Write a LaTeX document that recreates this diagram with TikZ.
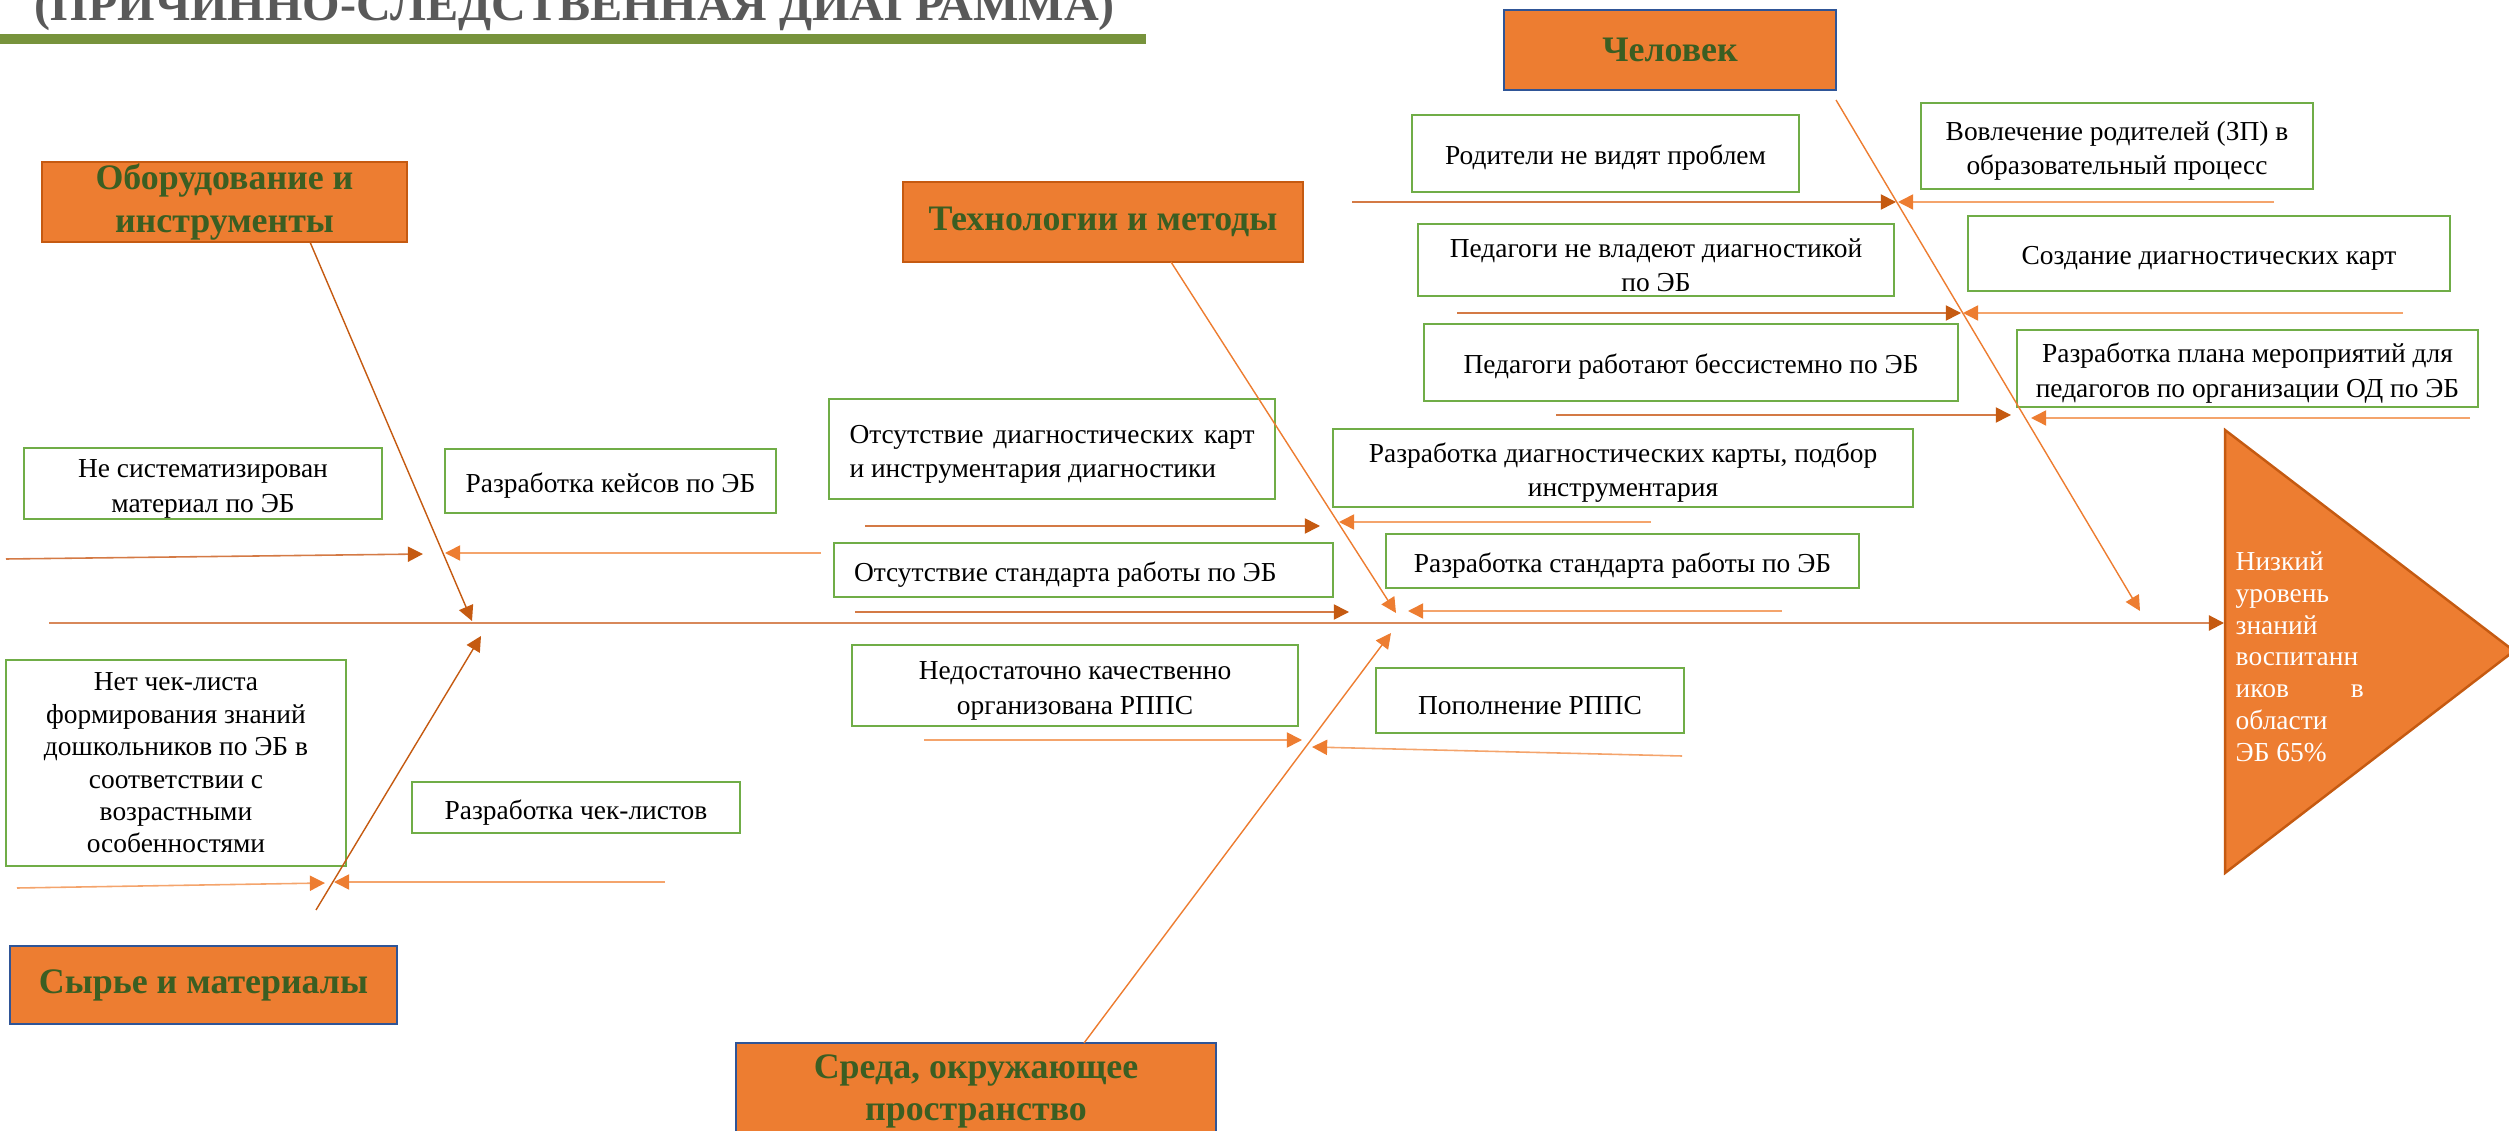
\documentclass[tikz,border=0pt]{standalone}
\usepackage{fontspec}
\setmainfont{Liberation Serif}
\usetikzlibrary{arrows.meta}

\definecolor{fishorange}{HTML}{ED7D31}
\definecolor{darkorange}{HTML}{C55A11}
\definecolor{lightorange}{HTML}{F4A46C}
\definecolor{causeline}{HTML}{D47A45}
\definecolor{spinebrown}{HTML}{D8885A}
\definecolor{leafgreen}{HTML}{70AD47}
\definecolor{catgreen}{HTML}{3B5E22}
\definecolor{catblue}{HTML}{2F5597}
\definecolor{bargreen}{HTML}{77933C}
\definecolor{titlegray}{HTML}{595959}

\newlength\px \setlength\px{0.01cm}
\newcommand\leaffont{\fontsize{7.8}{9.7}\selectfont}
\newcommand\catfont{\fontsize{10.2}{12}\selectfont\bfseries}
\newcommand\lift{\rule{0pt}{8.2pt}}

\begin{document}
\begin{tikzpicture}[x=0.01cm, y=-0.01cm,
  cat/.style={draw=darkorange, fill=fishorange, line width=0.7pt, align=center,
    font=\catfont, text=catgreen, inner sep=0pt},
  catb/.style={cat, draw=catblue},
  leaf/.style={draw=leafgreen, line width=0.65pt, fill=white, align=center,
    font=\leaffont, inner sep=0pt},
  prob/.style={color=causeline, line width=0.45pt,
    -{Triangle[length=4.3pt, width=4.3pt, color=darkorange]}},
  probl/.style={color=lightorange, line width=0.45pt,
    -{Triangle[length=4.3pt, width=4.3pt, color=fishorange]}},
  fix/.style={color=lightorange, line width=0.45pt,
    -{Triangle[length=4.3pt, width=4.3pt, color=fishorange]}},
  bone/.style={color=fishorange, line width=0.4pt,
    -{Triangle[length=4.3pt, width=4.3pt]}},
  boned/.style={bone, color=darkorange}]

\useasboundingbox (0,0) rectangle (2509,1131);

% title
\node[anchor=base west, inner sep=0pt, text=titlegray,
  font=\fontsize{13.7}{16}\selectfont\bfseries] (title) at (34,21)
  {(ПРИЧИННО-СЛЕДСТВЕННАЯ ДИАГРАММА)};
\fill[bargreen] (0,34) rectangle (1146,44);

% categories
\node[cat, minimum width=365\px, minimum height=80\px] (equip) at (224.5,202) {Оборудование и\\инструменты};
\node[cat, minimum width=400\px, minimum height=80\px] (tech) at (1103,222) {Технологии и методы};
\node[catb, minimum width=332\px, minimum height=80\px] (human) at (1670,50) {Человек};
\node[catb, minimum width=387\px, minimum height=78\px] (raw) at (203.5,985) {Сырье и материалы};
\node[catb, minimum width=480\px, minimum height=97\px] (env) at (976,1091.5) {Среда, окружающее\\пространство};

% causes and fixes
\node[leaf, minimum width=358\px, minimum height=71\px] (eq1) at (203,483.5) {\lift Не систематизирован\\материал по ЭБ};
\node[leaf, minimum width=331\px, minimum height=64\px] (eq2) at (610.5,481) {\lift Разработка кейсов по ЭБ};
\node[leaf, font=\fontsize{7.8}{9.2}\selectfont, minimum width=340\px, minimum height=206\px] (rw1) at (176,763)
  {Нет чек-листа\\формирования знаний\\дошкольников по ЭБ в\\соответствии с\\возрастными\\особенностями};
\node[leaf, minimum width=328\px, minimum height=51\px] (rw2) at (576,807.5) {\lift Разработка чек-листов};
\node[leaf, align=left, minimum width=446\px, minimum height=100\px] (tc1) at (1052,449)
  {\lift\makebox[405\px][s]{Отсутствие диагностических карт}\\\makebox[405\px][l]{и инструментария диагностики}};
\node[leaf, minimum width=580\px, minimum height=78\px] (tc2) at (1623,468) {\lift Разработка диагностических карты, подбор\\инструментария};
\node[leaf, minimum width=499\px, minimum height=54\px] (td1) at (1083.5,570) {\lift\makebox[459\px][l]{Отсутствие стандарта работы по ЭБ}};
\node[leaf, minimum width=473\px, minimum height=54\px] (td2) at (1622.5,561) {\lift Разработка стандарта работы по ЭБ};
\node[leaf, minimum width=446\px, minimum height=81\px] (en1) at (1075,685.5) {\lift Недостаточно качественно\\организована РППС};
\node[leaf, minimum width=308\px, minimum height=65\px] (en2) at (1530,700.5) {\lift Пополнение РППС};
\node[leaf, minimum width=387\px, minimum height=77\px] (ha1) at (1605.5,153.5) {\lift Родители не видят проблем};
\node[leaf, minimum width=392\px, minimum height=86\px] (ha2) at (2117,146) {\lift Вовлечение родителей (ЗП) в\\образовательный процесс};
\node[leaf, minimum width=476\px, minimum height=72\px] (hb1) at (1656,260) {\lift Педагоги не владеют диагностикой\\по ЭБ};
\node[leaf, minimum width=482\px, minimum height=75\px] (hb2) at (2209,253.5) {\lift Создание диагностических карт};
\node[leaf, minimum width=534\px, minimum height=77\px] (hc1) at (1691,362.5) {\lift Педагоги работают бессистемно по ЭБ};
\node[leaf, minimum width=461\px, minimum height=77\px] (hc2) at (2247.5,368.5) {\lift Разработка плана мероприятий для\\педагогов по организации ОД по ЭБ};

% effect
\filldraw[fill=fishorange, draw=darkorange, line width=0.7pt] (2225,430) -- (2514,651) -- (2225,873) -- cycle;
\node[anchor=north west, align=left, inner sep=0pt, font=\fontsize{7.8}{9.05}\selectfont, text=white] (effect) at (2235,551)
  {Низкий\\уровень\\знаний\\воспитанн\\\makebox[128\px][s]{иков в}\\области\\ЭБ 65\%};

\foreach \n/\p in {eqA/{6,559}, eqB/{423,554}, eqC/{821,553}, eqD/{445,553},
    rwA/{17,888}, rwB/{325,883}, rwC/{665,882}, rwD/{334,882},
    tcA/{865,526}, tcB/{1320,526}, tcC/{1651,522}, tcD/{1339,522},
    tdA/{855,612}, tdB/{1349,612}, tdC/{1782,611}, tdD/{1408,611},
    enA/{924,740}, enB/{1302,740}, enC/{1682,756}, enD/{1312,747},
    haA/{1352,202}, haB/{1896,202}, haC/{2274,202}, haD/{1898,202},
    hbA/{1457,313}, hbB/{1961,313}, hbC/{2403,313}, hbD/{1963,313},
    hcA/{1556,415}, hcB/{2011,415}, hcC/{2470,418}, hcD/{2031,418},
    eqS/{310,242}, eqT/{472,621}, rwS/{316,910}, rwT/{481,636},
    tcS/{1171,262}, tcT/{1396,613}, enS/{1084,1043}, enT/{1391,633},
    huS/{1836,100}, huT/{2140,611}, spS/{49,623}, spT/{2224,623}}
  \coordinate (\n) at (\p);

% spine and bones
\draw[color=spinebrown, line width=0.6pt, -{Triangle[length=4.3pt, width=4.3pt, color=darkorange]}] (spS) -- (spT);
\path[boned] (eqS) edge (eqT) (rwS) edge (rwT);
\path[bone] (tcS) edge (tcT) (enS) edge (enT) (huS) edge (huT);

% ribs
\path[prob] (eqA) edge (eqB) (tcA) edge (tcB) (tdA) edge (tdB)
  (haA) edge (haB) (hbA) edge (hbB) (hcA) edge (hcB);
\path[probl] (rwA) edge (rwB) (enA) edge (enB);
\path[fix] (eqC) edge (eqD) (rwC) edge (rwD) (tcC) edge (tcD) (tdC) edge (tdD)
  (enC) edge (enD) (haC) edge (haD) (hbC) edge (hbD) (hcC) edge (hcD);
\end{tikzpicture}
\end{document}
